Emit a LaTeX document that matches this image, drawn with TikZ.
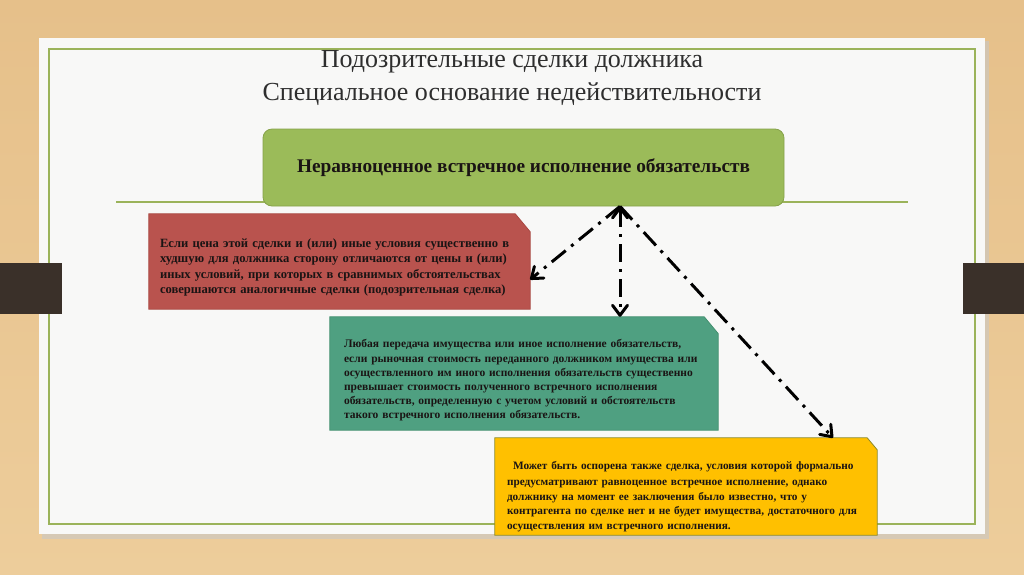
\documentclass[tikz,border=0pt]{standalone}
\usepackage{fontspec}
\setmainfont{Liberation Serif}
\usetikzlibrary{arrows.meta}
\setlength{\parindent}{0pt}
\definecolor{woodA}{HTML}{E6C08A}
\definecolor{woodB}{HTML}{EDCD9B}
\definecolor{cardc}{HTML}{F8F8F7}
\definecolor{framec}{HTML}{9BB35A}
\definecolor{bandc}{HTML}{3A3029}
\definecolor{greenc}{HTML}{9BBB59}
\definecolor{greenb}{HTML}{86A24A}
\definecolor{redc}{HTML}{B9534E}
\definecolor{redb}{HTML}{A94842}
\definecolor{tealc}{HTML}{4FA081}
\definecolor{tealb}{HTML}{43906F}
\definecolor{yelc}{HTML}{FFC000}
\definecolor{yelb}{HTML}{8C8A2A}
\definecolor{titlec}{HTML}{2E2E2E}
\definecolor{txtc}{HTML}{1A1414}
\newcommand\jl[1]{\makebox[\hsize][s]{#1}}
\newcommand\chbox[8]{% name, fill, border, cx, cy, w, h, cut
  \node[inner sep=0pt, minimum width=#6pt, minimum height=#7pt] (#1) at (#4,#5) {};
  \filldraw[fill=#2, draw=#3, line width=0.8pt]
    (#1.north west) -- ([xshift=-#8pt]#1.north east) -- ([yshift=-#8pt*1.2]#1.north east)
    -- (#1.south east) -- (#1.south west) -- cycle;
}
\tikzset{
  titletxt/.style={font=\fontsize{26}{30}\selectfont, text=titlec, inner sep=0pt},
  maintxt/.style={font=\bfseries\fontsize{19.3}{23}\selectfont, text=txtc},
  boxtxt/.style={text=txtc, inner sep=0pt, align=left},
  dasharrow/.style={line width=3pt, dash pattern=on 18pt off 7pt on 3pt off 7pt,
    -{Straight Barb[length=10pt,width=15pt,line width=3pt,round]}},
  dasharrowboth/.style={line width=3pt, dash pattern=on 18pt off 7pt on 3pt off 7pt,
    {Straight Barb[length=10pt,width=15pt,line width=3pt,round]}-{Straight Barb[length=10pt,width=15pt,line width=3pt,round]}}
}
\begin{document}
\begin{tikzpicture}[x=1pt,y=-1pt]
\useasboundingbox (0,0) rectangle (1024,574);
\shade[top color=woodA, bottom color=woodB] (0,0) rectangle (1024,574);
\fill[black!22, opacity=0.6] (42,41) rectangle (989,539);
\fill[cardc] (39,38) rectangle (985,534);
\draw[framec, line width=1.2pt] (49,49) rectangle (975,524);
\fill[bandc] (0,263) rectangle (62,314);
\fill[bandc] (963,263) rectangle (1024,314);
\draw[framec, line width=1.2pt] (116,202) -- (908,202);

\node[titletxt] (t1) at (512,62) {Подозрительные сделки должника};
\node[titletxt] (t2) at (512,94) {Специальное основание недействительности};

\node[maintxt, fill=greenc, draw=greenb, line width=0.8pt, rounded corners=9pt,
  minimum width=521pt, minimum height=77pt] (main) at (523.5,167.5)
  {Неравноценное встречное исполнение обязательств};

\chbox{red}{redc}{redb}{339.5}{261.5}{381}{95}{15}
\node[boxtxt, text width=358pt, font=\bfseries\fontsize{12.6}{15.5}\selectfont] (redt) at (339,267.5)
  {\jl{Если цена этой сделки и (или) иные условия существенно в}\\
   \jl{худшую для должника сторону отличаются от цены и (или)}\\
   \jl{иных условий, при которых в сравнимых обстоятельствах}\\
   совершаются аналогичные сделки (подозрительная сделка)};

\chbox{teal}{tealc}{tealb}{524}{373.5}{388}{113}{14}
\node[boxtxt, text width=362pt, font=\bfseries\fontsize{11.5}{14.2}\selectfont] (tealt) at (525,380.5)
  {\jl{Любая передача имущества или иное исполнение обязательств,}\\
   \jl{если рыночная стоимость переданного должником имущества или}\\
   \jl{осуществленного им иного исполнения обязательств существенно}\\
   \jl{превышает стоимость полученного встречного исполнения}\\
   \jl{обязательств, определенную с учетом условий и обстоятельств}\\
   такого встречного исполнения обязательств.};

\chbox{yel}{yelc}{yelb}{686}{486.5}{382}{97}{10}
\node[boxtxt, text width=358pt, font=\bfseries\fontsize{11.3}{14.5}\selectfont] (yelt) at (686,496.5)
  {\hspace{6pt}\makebox[\dimexpr\hsize-6pt][s]{Может быть оспорена также сделка, условия которой формально}\\[1.5pt]
   \jl{предусматривают равноценное встречное исполнение, однако}\\
   \jl{должнику на момент ее заключения было известно, что у}\\
   \jl{контрагента по сделке нет и не будет имущества, достаточного для}\\
   осуществления им встречного исполнения.};

\coordinate (apex) at ([xshift=96.5pt]main.south);
\draw[dasharrow] (apex) -- ([yshift=-18pt]red.east);
\draw[dasharrowboth] (apex) -- (apex |- teal.north);
\draw[dasharrow] (apex) -- ([xshift=147pt]yel.north);
\end{tikzpicture}
\end{document}
